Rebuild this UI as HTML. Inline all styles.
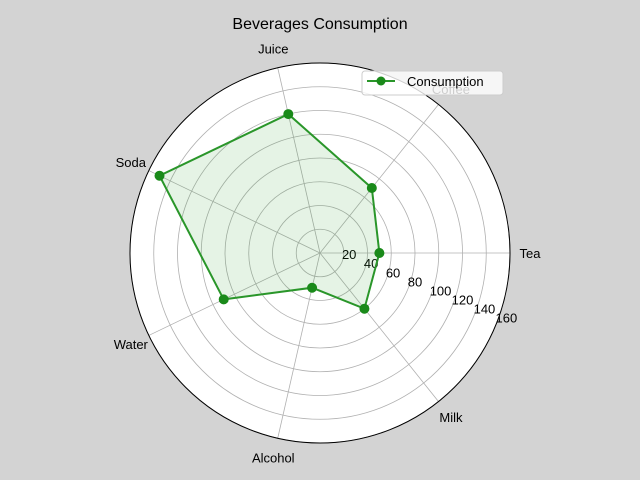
<!DOCTYPE html>
<html><head><meta charset="utf-8"><style>
html,body{margin:0;padding:0;background:#d3d3d3;}
svg{display:block;font-family:"Liberation Sans","DejaVu Sans",sans-serif;}
</style></head><body>
<svg id="chart" width="640" height="480" viewBox="0 0 640 480">
<rect width="640" height="480" fill="#d3d3d3"/>
<text x="320" y="29" font-size="16" text-anchor="middle" fill="#000">Beverages Consumption</text>
<g id="plot"></g>
</svg>
<script>
const categories = ["Tea","Coffee","Juice","Soda","Water","Alcohol","Milk"];
const values = [50, 70, 120, 150, 90, 30, 60];
const rTicks = [20,40,60,80,100,120,140,160];
const rMax = 160;
const cx = 320, cy = 253, R = 190;
const NS = "http://www.w3.org/2000/svg";
const g = document.getElementById("plot");
function ang(i){ return i * 2 * Math.PI / categories.length; }
function rad(v){ return v / rMax * R; }
function pt(i, v){ const a = ang(i), r = rad(v); return [cx + r*Math.cos(a), cy - r*Math.sin(a)]; }
function mk(tag, attrs){ const e = document.createElementNS(NS, tag); for (const k in attrs) e.setAttribute(k, attrs[k]); g.appendChild(e); return e; }

const bg = mk("circle", {cx:cx, cy:cy, r:R, fill:"#fff"});



rTicks.forEach(function(t){
  const c = mk("circle", {cx:cx, cy:cy, r:rad(t), fill:"none", stroke:"#b0b0b0", "stroke-width":0.8});
  
  
});
categories.forEach(function(c, i){
  const p = pt(i, rMax);
  const l = mk("line", {x1:cx, y1:cy, x2:p[0], y2:p[1], stroke:"#b0b0b0", "stroke-width":0.8});
  
  
  const a = ang(i), lr = 210;
  const x = cx + lr*Math.cos(a), y = cy - lr*Math.sin(a);
  const tx = mk("text", {x: x, y: y+5, "font-size":13, "text-anchor":"middle", fill:"#000"});
  tx.textContent = c;
  
  
});
rTicks.forEach(function(t){
  const a = -22.5 * Math.PI/180, r = rad(t);
  const x = cx + r*Math.cos(a), y = cy - r*Math.sin(a);
  const tx = mk("text", {x:x, y:y-3, "font-size":13, "text-anchor":"start", fill:"#000"});
  tx.textContent = t;
  
  
});
const pts = values.map(function(v, i){ return pt(i, v); });
const ptsStr = pts.map(function(p){ return p[0].toFixed(1)+","+p[1].toFixed(1); }).join(" ");
const area = mk("polygon", {points: ptsStr, fill:"#2ca02c", "fill-opacity":0.12, stroke:"none"});


const line = mk("polygon", {points: ptsStr, fill:"none", stroke:"#2a962a", "stroke-width":2});


pts.forEach(function(p){
  const m = mk("circle", {cx:p[0], cy:p[1], r:4.5, fill:"#1a8a1a", stroke:"#1a8a1a"});
  
  
});
const outer = mk("circle", {cx:cx, cy:cy, r:R, fill:"none", stroke:"#000", "stroke-width":1});



const leg = document.createElementNS(NS, "g");


leg.innerHTML = '<rect x="362" y="71" width="141" height="24" rx="3" fill="#fff" fill-opacity="0.8" stroke="#ccc"/>' +
  '<line x1="367" y1="81" x2="395" y2="81" stroke="#2a962a" stroke-width="2"/>' +
  '<circle cx="381" cy="81" r="4.5" fill="#1a8a1a"/>' +
  '<text x="407" y="86" font-size="13" fill="#000">Consumption</text>';
document.getElementById("chart").appendChild(leg);
</script>
</body></html>
